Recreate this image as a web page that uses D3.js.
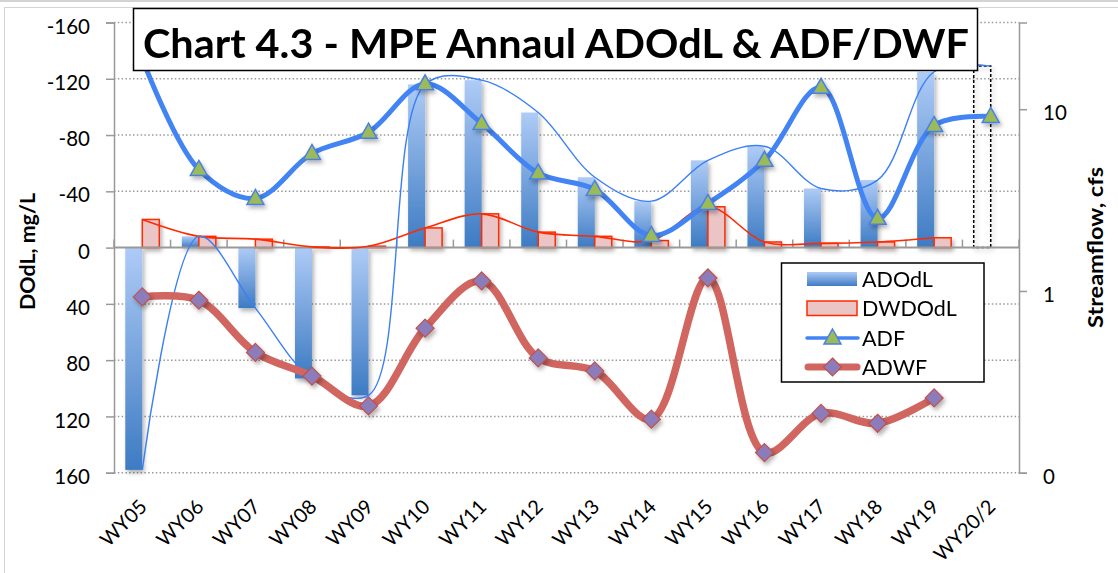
<!DOCTYPE html>
<html>
<head>
<meta charset="utf-8">
<script src="https://cdnjs.cloudflare.com/ajax/libs/d3/7.8.5/d3.min.js"></script>
<style>
  body { margin: 0; background: #fff; }
  text { font-family: Lato, "Open Sans", sans-serif; }
</style>
</head>
<body>
<div id="chart"></div>
<script>
// data
var years = ["WY05","WY06","WY07","WY08","WY09","WY10","WY11","WY12","WY13","WY14","WY15","WY16","WY17","WY18","WY19","WY20/2"];
var adodl = [158, -8, 43, 93, 105, -116, -119, -96, -50, -33, -62, -72, -42, -48, -125, -129];
var dwdodl = [-20, -8, -6, -0.5, -1, -14, -24, -11, -8, -5, -29, -4, -3, -4, -7, null];
var adf = [19, 4.66, 3.23, 5.71, 7.47, 13.8, 8.35, 4.45, 3.62, 2.02, 3.03, 5.23, 13.2, 2.51, 8.14, 9.12];
var adwf = [0.927, 0.889, 0.459, 0.340, 0.233, 0.624, 1.135, 0.428, 0.363, 0.197, 1.179, 0.129, 0.212, 0.187, 0.258, null];
var leftTicks = [-160, -120, -80, -40, 0, 40, 80, 120, 160];
var rightTicks = [0.1, 1, 10];
var rightTickLabels = ["0", "1", "10"];
var legendNames = ["ADOdL", "DWDOdL", "ADF", "ADWF"];

var width = 1118, height = 573;
var plotL = 114, plotR = 1019, plotT = 22.5, plotB = 472.7;

var svg = d3.select("#chart").append("svg")
    .attr("width", width)
    .attr("height", height);

var defs = svg.append("defs");
var grad = defs.append("linearGradient")
    .attr("id", "blueGrad")
    .attr("x1", 0).attr("y1", 0).attr("x2", 0).attr("y2", 1);
grad.append("stop").attr("offset", "0%").attr("stop-color", "#aecbf6");
grad.append("stop").attr("offset", "100%").attr("stop-color", "#3d7bc3");

var shadow = defs.append("filter").attr("id", "shadow")
    .attr("x", "-30%").attr("y", "-30%").attr("width", "160%").attr("height", "160%");
shadow.append("feDropShadow")
    .attr("dx", 2).attr("dy", 3).attr("stdDeviation", 2)
    .attr("flood-color", "#000").attr("flood-opacity", 0.3);

// chart frame
svg.append("line").attr("x1", 0).attr("x2", width).attr("y1", 1).attr("y2", 1)
    .attr("stroke", "#c4c4c4").attr("stroke-width", 1.5);
svg.append("rect").attr("x", 4.5).attr("y", 7.5).attr("width", 1200).attr("height", 700)
    .attr("fill", "none").attr("stroke", "#d4d4d4");

var x = d3.scaleBand().domain(years).range([plotL, plotR]);
var xs = d3.scaleBand().domain(["ADOdL", "DWDOdL"]).range([0, 34]);
var yL = d3.scaleLinear().domain([-160, 160]).range([plotT, plotB]);
var yR = d3.scaleLog().domain([0.1, 30]).range([plotB, plotT]);

function cx(d, i) { return x(years[i]) + x.bandwidth() / 2; }

// gridlines
svg.append("g").selectAll("line")
    .data(leftTicks.filter(function(d) { return d !== 0; }))
    .enter().append("line")
    .attr("x1", plotL).attr("x2", plotR)
    .attr("y1", function(d) { return yL(d); })
    .attr("y2", function(d) { return yL(d); })
    .attr("stroke", "#9a9a9a")
    .attr("stroke-width", 1.5)
    .attr("stroke-dasharray", "1.5,2.3");

// left axis
var axL = svg.append("g")
    .attr("transform", "translate(" + plotL + ",0)")
    .call(d3.axisLeft(yL).tickValues(leftTicks).tickSize(8).tickPadding(16)
        .tickFormat(function(d) { return String(d); }));
axL.select(".domain").attr("stroke", "#999").attr("stroke-width", 1.5);
axL.selectAll(".tick line").attr("stroke", "#999").attr("stroke-width", 1.5);
axL.selectAll(".tick text").attr("font-size", 20.5).attr("dy", "0.52em").attr("fill", "#000")
    .style("font-family", "Lato");

// right axis
var axR = svg.append("g")
    .attr("transform", "translate(" + plotR + ",0)")
    .call(d3.axisRight(yR).tickValues(rightTicks).tickSize(8).tickPadding(16)
        .tickFormat(function(d, i) { return rightTickLabels[i]; }));
axR.select(".domain").attr("stroke", "#999").attr("stroke-width", 1.5);
axR.selectAll(".tick line").attr("stroke", "#999").attr("stroke-width", 1.5);
axR.selectAll(".tick text").attr("font-size", 20.5).attr("dy", "0.52em").attr("fill", "#000")
    .style("font-family", "Lato");

// category labels at the bottom
svg.append("g").selectAll("text")
    .data(years)
    .enter().append("text")
    .attr("transform", function(d) {
        return "translate(" + (x(d) + x.bandwidth() / 2 + 6) + "," + 508 + ") rotate(-45)";
    })
    .attr("text-anchor", "end")
    .attr("font-size", 20)
    .text(function(d) { return d; });

// ADOdL bars
svg.append("g").attr("filter", "url(#shadow)").selectAll("rect")
    .data(adodl)
    .enter().append("rect")
    .attr("x", function(d, i) { return x(years[i]) + (x.bandwidth() - 34) / 2 + xs("ADOdL"); })
    .attr("width", xs.bandwidth())
    .attr("y", function(d) { return Math.min(yL(d), yL(0)); })
    .attr("height", function(d) { return Math.abs(yL(d) - yL(0)); })
    .attr("fill", function(d, i) { return i === years.length - 1 ? "none" : "url(#blueGrad)"; })
    .attr("stroke", function(d, i) { return i === years.length - 1 ? "#000" : "none"; })
    .attr("stroke-width", 1.5)
    .attr("stroke-dasharray", "3,2");

// DWDOdL bars
svg.append("g").attr("filter", "url(#shadow)").selectAll("rect")
    .data(dwdodl)
    .enter().filter(function(d) { return d !== null; }).append("rect")
    .attr("x", function(d, i) { return x(years[i]) + (x.bandwidth() - 34) / 2 + xs("DWDOdL"); })
    .attr("width", xs.bandwidth())
    .attr("y", function(d) { return Math.min(yL(d), yL(0)); })
    .attr("height", function(d) { return Math.abs(yL(d) - yL(0)); })
    .attr("fill", "#ebc5c5")
    .attr("stroke", "#ff2a00")
    .attr("stroke-width", 1.5);

// category axis at zero
svg.append("line")
    .attr("x1", plotL).attr("x2", plotR)
    .attr("y1", yL(0)).attr("y2", yL(0))
    .attr("stroke", "#999").attr("stroke-width", 2);
svg.append("g").selectAll("line")
    .data(d3.range(years.length + 1))
    .enter().append("line")
    .attr("x1", function(i) { return plotL + i * x.bandwidth(); })
    .attr("x2", function(i) { return plotL + i * x.bandwidth(); })
    .attr("y1", yL(0) - 8).attr("y2", yL(0))
    .attr("stroke", "#999").attr("stroke-width", 1.5);

// thin smoothed lines of the bar values
var thinLine = d3.line()
    .defined(function(d) { return d !== null; })
    .x(cx)
    .y(function(d) { return yL(d); })
    .curve(d3.curveCatmullRom);

svg.append("path")
    .attr("d", thinLine(dwdodl))
    .attr("fill", "none").attr("stroke", "#ff2a00").attr("stroke-width", 1.6);
svg.append("path")
    .attr("d", thinLine(adodl))
    .attr("fill", "none").attr("stroke", "#3a7ff6").attr("stroke-width", 1.4);

// streamflow lines
var flowLine = d3.line()
    .defined(function(d) { return d !== null; })
    .x(cx)
    .y(function(d) { return yR(d); })
    .curve(d3.curveCatmullRom);

svg.append("path")
    .attr("d", flowLine(adwf))
    .attr("fill", "none").attr("stroke", "#d0665f").attr("stroke-width", 7.5)
    .attr("stroke-linejoin", "round");
svg.append("path")
    .attr("d", flowLine(adf))
    .attr("fill", "none").attr("stroke", "#4284f3").attr("stroke-width", 5)
    .attr("stroke-linejoin", "round");

var triangle = "M0,-9L8.5,6L-8.5,6Z";
var diamond = "M0,-9L9,0L0,9L-9,0Z";

svg.append("g").attr("filter", "url(#shadow)").selectAll("path")
    .data(adwf)
    .enter().filter(function(d) { return d !== null; }).append("path")
    .attr("d", diamond)
    .attr("transform", function(d, i) { return "translate(" + cx(d, i) + "," + yR(d) + ")"; })
    .attr("fill", "#8c7cba").attr("stroke", "#c0504d").attr("stroke-width", 1.2);

svg.append("g").attr("filter", "url(#shadow)").selectAll("path")
    .data(adf)
    .enter().append("path")
    .attr("d", triangle)
    .attr("transform", function(d, i) { return "translate(" + cx(d, i) + "," + yR(d) + ")"; })
    .attr("fill", "#9bbb59").attr("stroke", "#4a7fe6").attr("stroke-width", 1.5);

// axis titles
svg.append("text")
    .attr("transform", "translate(35,251.5) rotate(-90)")
    .attr("text-anchor", "middle")
    .attr("font-size", 20).attr("font-weight", 700)
    .attr("textLength", 117).attr("lengthAdjust", "spacingAndGlyphs")
    .text("DOdL, mg/L");
svg.append("text")
    .attr("transform", "translate(1103,247.5) rotate(-90)")
    .attr("text-anchor", "middle")
    .attr("font-size", 21).attr("font-weight", 700)
    .attr("textLength", 161).attr("lengthAdjust", "spacingAndGlyphs")
    .text("Streamflow, cfs");

// legend
var lg = svg.append("g");
lg.append("rect").attr("x", 781.5).attr("y", 263).attr("width", 202.5).attr("height", 119)
    .attr("fill", "#fff").attr("stroke", "#000").attr("stroke-width", 1.5);
var rowY = [279, 308, 338, 367];
lg.append("rect").attr("x", 807).attr("y", rowY[0] - 7).attr("width", 50).attr("height", 14)
    .attr("fill", "url(#blueGrad)");
lg.append("rect").attr("x", 807).attr("y", rowY[1] - 7).attr("width", 50).attr("height", 14.5)
    .attr("fill", "#ebc5c5").attr("stroke", "#ff2a00").attr("stroke-width", 1.5);
lg.append("line").attr("x1", 807).attr("x2", 858).attr("y1", rowY[2]).attr("y2", rowY[2])
    .attr("stroke", "#4284f3").attr("stroke-width", 3.5).attr("stroke-linecap", "round");
lg.append("path").attr("d", triangle)
    .attr("transform", "translate(832.5," + rowY[2] + ")")
    .attr("fill", "#9bbb59").attr("stroke", "#4a7fe6").attr("stroke-width", 1.5);
lg.append("line").attr("x1", 808).attr("x2", 857).attr("y1", rowY[3]).attr("y2", rowY[3])
    .attr("stroke", "#d0665f").attr("stroke-width", 7).attr("stroke-linecap", "round");
lg.append("path").attr("d", diamond)
    .attr("transform", "translate(832.5," + rowY[3] + ")")
    .attr("fill", "#8c7cba").attr("stroke", "#c0504d").attr("stroke-width", 1.2);
lg.selectAll("text.lbl")
    .data(legendNames)
    .enter().append("text")
    .attr("class", "lbl")
    .attr("x", 862)
    .attr("y", function(d, i) { return rowY[i]; })
    .attr("dy", "0.36em")
    .attr("font-size", 21.5)
    .text(function(d) { return d; });

// title box
svg.append("rect").attr("x", 133.5).attr("y", 8.5).attr("width", 844).attr("height", 62)
    .attr("fill", "#fff").attr("stroke", "#000").attr("stroke-width", 1.5);
svg.append("text")
    .attr("x", 556).attr("y", 57.5)
    .attr("text-anchor", "middle")
    .attr("font-size", 41).attr("font-weight", 700)
    .attr("textLength", 826).attr("lengthAdjust", "spacingAndGlyphs")
    .text("Chart 4.3 - MPE Annaul ADOdL & ADF/DWF");
</script>
</body>
</html>
